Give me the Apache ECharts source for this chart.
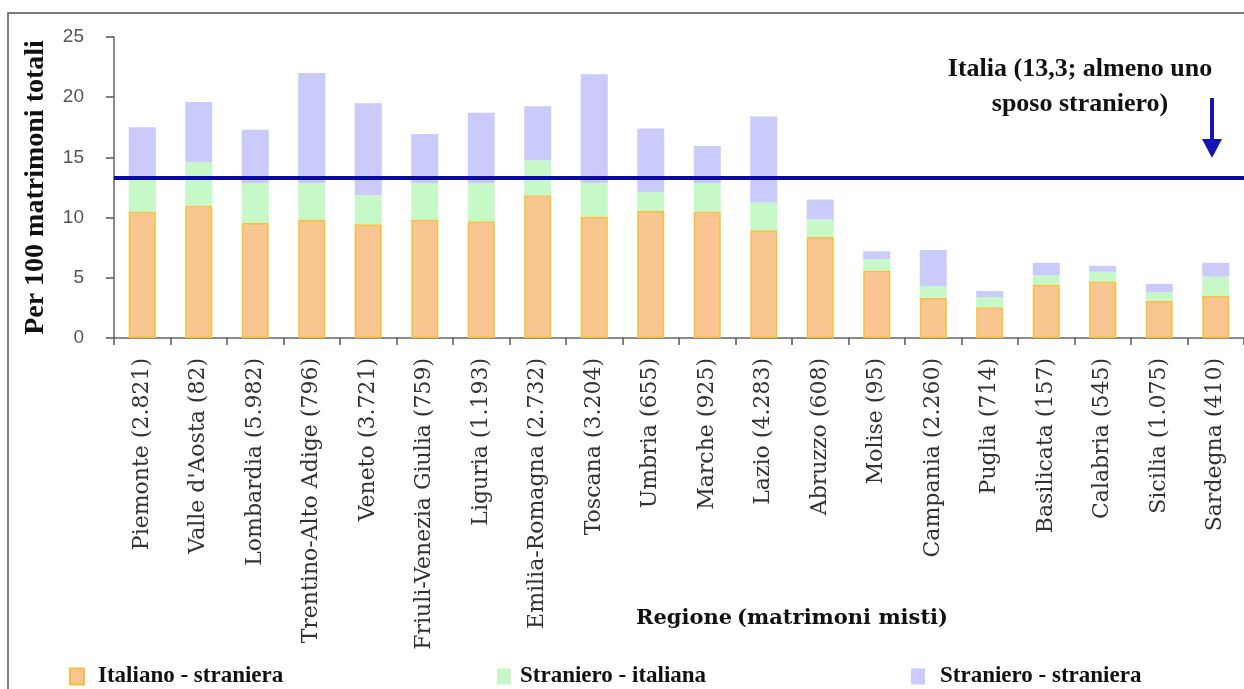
<!DOCTYPE html>
<html>
<head>
<meta charset="utf-8">
<script src="https://cdn.jsdelivr.net/npm/echarts@6/dist/echarts.min.js"></script>
<style>
  html, body { margin: 0; padding: 0; background: #fff; }
  #chart { width: 1244px; height: 689px; }
</style>
</head>
<body>
<div id="chart"></div>
<script>
// Regions and number of mixed marriages in each
const regions = ['Piemonte', "Valle d'Aosta", 'Lombardia', 'Trentino-Alto Adige', 'Veneto',
  'Friuli-Venezia Giulia', 'Liguria', 'Emilia-Romagna', 'Toscana', 'Umbria', 'Marche', 'Lazio',
  'Abruzzo', 'Molise', 'Campania', 'Puglia', 'Basilicata', 'Calabria', 'Sicilia', 'Sardegna'];
const mixedMarriages = [2821, 82, 5982, 796, 3721, 759, 1193, 2732, 3204, 655, 925, 4283,
  608, 95, 2260, 714, 157, 545, 1075, 410];

// Per 100 total marriages, by type of couple (stacked)
const italianoStraniera = [10.5, 11.0, 9.55, 9.8, 9.45, 9.85, 9.7, 11.85, 10.1, 10.55, 10.5, 8.95,
  8.4, 5.6, 3.35, 2.55, 4.45, 4.7, 3.1, 3.5];
const stranieroItaliana = [2.8, 3.6, 3.3, 3.05, 2.4, 3.0, 3.15, 2.9, 2.75, 1.55, 2.35, 2.3,
  1.45, 0.95, 0.95, 0.85, 0.75, 0.8, 0.7, 1.6];
const stranieroStraniera = [4.2, 5.0, 4.45, 9.15, 7.65, 4.1, 5.85, 4.5, 9.05, 5.3, 3.1, 7.15,
  1.65, 0.65, 3.0, 0.5, 1.05, 0.5, 0.7, 1.15];

// National figure: at least one foreign spouse
const italiaValue = 13.3;
const yTicks = { min: 0, max: 25, step: 5 };

const seriesNames = ['Italiano - straniera', 'Straniero - italiana', 'Straniero - straniera'];

function thousands(n) {
  return String(n).replace(/\B(?=(\d{3})+(?!\d))/g, '.');
}
const categories = regions.map((r, i) => r + ' (' + thousands(mixedMarriages[i]) + ')');

const chart = echarts.init(document.getElementById('chart'));

const legendText = { fontFamily: 'Liberation Serif', fontWeight: 'bold', fontSize: 23, color: '#111' };
const legendBase = { top: 665, padding: 0, icon: 'rect', itemWidth: 14, itemHeight: 16, selectedMode: false };

chart.setOption({
  animation: false,
  backgroundColor: '#fff',
  grid: { left: 114, right: -7, top: 37, bottom: 351 },
  title: {
    text: '{b|Regione} {n|(matrimoni misti)}',
    left: 631, top: 603,
    textStyle: {
      rich: {
        b: { fontFamily: 'DejaVu Serif', fontWeight: 'bold', fontSize: 21, color: '#111' },
        n: { fontFamily: 'DejaVu Serif', fontSize: 21, color: '#111' }
      }
    }
  },
  legend: [
    Object.assign({ data: [seriesNames[0]], left: 69,
      textStyle: Object.assign({ padding: [0, 0, 0, 9] }, legendText) }, legendBase),
    Object.assign({ data: [seriesNames[1]], left: 497,
      textStyle: Object.assign({ padding: [0, 0, 0, 4] }, legendText) }, legendBase),
    Object.assign({ data: [seriesNames[2]], left: 911,
      textStyle: Object.assign({ padding: [0, 0, 0, 10] }, legendText) }, legendBase)
  ],
  xAxis: {
    type: 'category',
    data: categories,
    axisLine: { lineStyle: { color: '#666', width: 1.5 } },
    axisTick: { show: true, length: 7, lineStyle: { color: '#555', width: 1.5 } },
    axisLabel: {
      interval: 0, rotate: 90, margin: 20,
      fontFamily: 'DejaVu Serif', fontSize: 22, color: '#333'
    }
  },
  yAxis: {
    type: 'value',
    min: yTicks.min, max: yTicks.max, interval: yTicks.step,
    name: 'Per 100 matrimoni totali',
    nameLocation: 'middle', nameRotate: 90, nameGap: 64,
    nameTextStyle: { fontFamily: 'Liberation Serif', fontWeight: 'bold', fontSize: 28, color: '#111' },
    axisLine: { show: true, lineStyle: { color: '#666', width: 1.5 } },
    axisTick: { show: true, length: 8, lineStyle: { color: '#555', width: 1.5 } },
    splitLine: { show: false },
    axisLabel: { fontFamily: 'Liberation Sans', fontSize: 19, color: '#555', margin: 30 }
  },
  series: [
    {
      name: seriesNames[0], type: 'bar', stack: 'tot', barWidth: 27,
      data: italianoStraniera,
      itemStyle: { color: '#F9C590', borderColor: '#F2C23E', borderWidth: 1.5 }
    },
    {
      name: seriesNames[1], type: 'bar', stack: 'tot', barWidth: 27,
      data: stranieroItaliana,
      itemStyle: { color: '#C6F8C8' }
    },
    {
      name: seriesNames[2], type: 'bar', stack: 'tot', barWidth: 27,
      data: stranieroStraniera,
      itemStyle: { color: '#CACAFB' },
      markLine: {
        silent: true, symbol: 'none', label: { show: false },
        lineStyle: { color: '#0A0AA6', width: 4, type: 'solid' },
        data: [{ yAxis: italiaValue }]
      }
    }
  ],
  graphic: [
    // chart frame
    { type: 'rect', shape: { x: 8, y: 13, width: 1250, height: 690 },
      style: { fill: 'none', stroke: '#7a7a7a', lineWidth: 2 }, z: 100 },
    // note on the national figure
    { type: 'text', x: 1080, y: 87,
      style: {
        text: 'Italia (13,3; almeno uno\nsposo straniero)',
        font: 'bold 26px "Liberation Serif"', fill: '#111',
        align: 'center', verticalAlign: 'middle', lineHeight: 35
      }, z: 100 },
    { type: 'line', shape: { x1: 1212, y1: 98, x2: 1212, y2: 142 },
      style: { stroke: '#1515B5', lineWidth: 4 }, z: 100 },
    { type: 'polygon', shape: { points: [[1202, 139], [1222, 139], [1212, 158]] },
      style: { fill: '#1515B5' }, z: 100 }
  ]
});
</script>
</body>
</html>
